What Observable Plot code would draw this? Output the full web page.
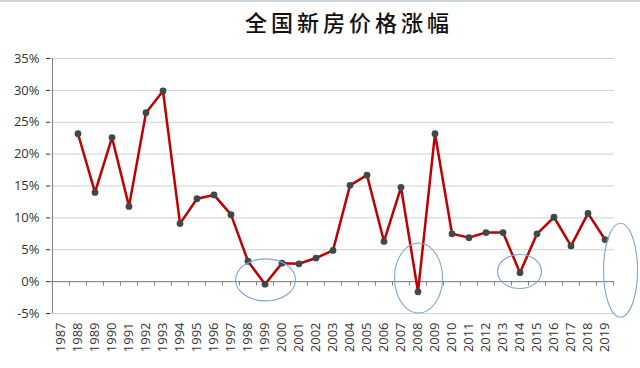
<!DOCTYPE html>
<html>
<head>
<meta charset="utf-8">
<script src="https://cdn.jsdelivr.net/npm/d3@7"></script>
<script src="https://cdn.jsdelivr.net/npm/@observablehq/plot@0.6"></script>
<style>
  html, body { margin: 0; padding: 0; background: #fff; }
  #title {
    box-sizing: border-box;
    height: 40px;
    border-top: 2px solid #cdd5dc;
    font-family: "Noto Sans CJK SC", sans-serif;
    font-size: 22px;
    font-weight: 500;
    letter-spacing: 4px;
    line-height: 38px;
    text-align: center;
    padding-left: 58px;
    color: #111;
  }
  #chart svg { display: block; overflow: visible; }
</style>
</head>
<body>
<div id="title">全国新房价格涨幅</div>
<div id="chart"></div>
<script>
// Categories (x tick labels)
const years = ["1987","1988","1989","1990","1991","1992","1993","1994","1995","1996","1997",
  "1998","1999","2000","2001","2002","2003","2004","2005","2006","2007","2008","2009",
  "2010","2011","2012","2013","2014","2015","2016","2017","2018","2019"];
// Annual growth of new-home prices (%), 1987 has no value
const growth = [null, 23.2, 14.0, 22.6, 11.8, 26.5, 29.9, 9.1, 13.0, 13.6, 10.5,
  3.2, -0.4, 2.9, 2.8, 3.7, 4.9, 15.1, 16.7, 6.3, 14.8, -1.6, 23.2,
  7.5, 6.9, 7.7, 7.7, 1.4, 7.5, 10.1, 5.6, 10.7, 6.6];
// y tick values (%)
const yTicks = [-5, 0, 5, 10, 15, 20, 25, 30, 35];
// Hand-drawn highlight annotations: category and centre value
const noteYears = ["1999", "2008", "2014", "2019"];
const noteValues = [0.2, 0.5, 1.5, 1.7];

const data = years.map((y, i) => ({year: y, value: growth[i]}));
const points = data.filter(d => d.value != null);

const W = 640, H = 328, mL = 50, mR = 26, mT = 18, mB = 55;
const bw = (W - mL - mR) / years.length;

// ellipse shapes (pixels) for each annotation
const noteShapes = [
  {dx: 1, rx: 30, ry: 21},
  {dx: 1, rx: 24, ry: 35},
  {dx: 0, rx: 22, ry: 17},
  {dx: 16, rx: 17, ry: 47}
];

const ellipses = (index, scales) => {
  const g = d3.create("svg:g");
  noteYears.forEach((yr, i) => {
    const s = noteShapes[i];
    g.append("ellipse")
      .attr("cx", scales.x(yr) + bw / 2 + s.dx)
      .attr("cy", scales.y(noteValues[i]))
      .attr("rx", s.rx)
      .attr("ry", s.ry)
      .attr("fill", "none")
      .attr("stroke", "#7ea6cf")
      .attr("stroke-width", 1.1);
  });
  return g.node();
};

const chart = Plot.plot({
  width: W,
  height: H,
  marginLeft: mL,
  marginRight: mR,
  marginTop: mT,
  marginBottom: mB,
  style: {fontFamily: "'Open Sans', sans-serif", fontSize: "13px", color: "#333", background: "#fff", overflow: "visible"},
  x: {type: "band", domain: years, padding: 0, tickRotate: -90, tickSize: 0, tickPadding: 9, label: null},
  y: {domain: [-5, 35], ticks: yTicks, tickFormat: d => d + "%", tickSize: 4, tickPadding: 7, label: null},
  marks: [
    Plot.ruleY(yTicks, {stroke: "#d0d0d0", strokeWidth: 1}),
    Plot.ruleY([0], {stroke: "#7f7f7f", strokeWidth: 1}),
    Plot.ruleX([years[0]], {dx: -bw / 2, y1: -5, y2: 35, stroke: "#7f7f7f", strokeWidth: 1}),
    Plot.ruleX(years, {dx: -bw / 2, y1: 0, y2: -0.7, stroke: "#7f7f7f", strokeWidth: 1}),
    Plot.ruleX([years[years.length - 1]], {dx: bw / 2, y1: 0, y2: -0.7, stroke: "#7f7f7f", strokeWidth: 1}),
    Plot.line(data, {x: "year", y: "value", stroke: "#c00000", strokeWidth: 2.5}),
    Plot.dot(points, {x: "year", y: "value", r: 3.4, fill: "#3d4a4a", stroke: "none"}),
    ellipses
  ]
});
document.getElementById("chart").appendChild(chart);
</script>
</body>
</html>
